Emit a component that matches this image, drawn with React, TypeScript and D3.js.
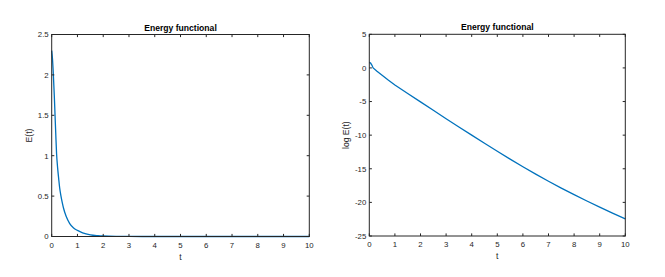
import React from "react";
import * as d3 from "d3";

const tE = [0, 0.03, 0.065, 0.1, 0.13, 0.16, 0.19, 0.23, 0.27, 0.31, 0.36, 0.41, 0.46, 0.56, 0.7, 0.85, 1.0, 1.2, 1.5, 1.8, 2.0, 2.5, 3.0, 4.0, 5.0, 6.0, 7.0, 8.0, 9.0, 10.0];
const valE = [2.3, 2.2, 2.0, 1.75, 1.5, 1.25, 1.02, 0.85, 0.72, 0.6, 0.5, 0.42, 0.35, 0.25, 0.16, 0.105, 0.075, 0.045, 0.02, 0.01, 0.006, 0.0015, 0.0005, 0.00005, 0.000005, 0, 0, 0, 0, 0];

const tLog = [0, 0.05, 0.1, 0.15, 0.3, 0.5, 0.75, 1.0, 1.5, 2.0, 2.5, 3.0, 3.5, 4.0, 4.5, 5.0, 5.5, 6.0, 6.5, 7.0, 7.5, 8.0, 8.5, 9.0, 9.5, 10.0];
const valLog = [0.83, 0.72, 0.42, 0.0, -0.5, -1.1, -1.85, -2.55, -3.8, -5.05, -6.3, -7.55, -8.78, -10.0, -11.2, -12.4, -13.56, -14.7, -15.8, -16.85, -17.87, -18.85, -19.8, -20.7, -21.6, -22.45];

const xTicks = [0, 1, 2, 3, 4, 5, 6, 7, 8, 9, 10];
const yTicksE = [0, 0.5, 1, 1.5, 2, 2.5];
const yTicksLog = [-25, -20, -15, -10, -5, 0, 5];

const titleText = "Energy functional";
const xLabel = "t";
const yLabelE = "E(t)";
const yLabelLog = "log E(t)";

const AX = "#262626";
const LINE = "#0072BD";
const FONT = "Liberation Sans, Arial, Helvetica, sans-serif";

type PanelProps = {
  x0: number; x1: number; y0: number; y1: number;
  yDomain: [number, number]; yTicks: number[];
  ts: number[]; vs: number[]; yLabel: string; yLabelX: number; smooth: boolean;
};

function Panel(p: PanelProps) {
  const xs = d3.scaleLinear().domain([0, 10]).range([p.x0, p.x1]);
  const ys = d3.scaleLinear().domain(p.yDomain).range([p.y1, p.y0]);
  const line = d3.line<number>().x((_, i) => xs(p.ts[i])).y((d) => ys(d));
  if (p.smooth) line.curve(d3.curveMonotoneX);
  const tl = 2.6;
  const fmt = (v: number) => String(v);
  return (
    <g>
      <rect x={p.x0} y={p.y0} width={p.x1 - p.x0} height={p.y1 - p.y0} fill="white" />
      <path d={line(p.vs) || ""} fill="none" stroke={LINE} strokeWidth={1.3} />
      <rect x={p.x0} y={p.y0} width={p.x1 - p.x0} height={p.y1 - p.y0} fill="none" stroke={AX} strokeWidth={1} />
      {xTicks.map((t) => (
        <g key={"x" + t}>
          <line x1={xs(t)} x2={xs(t)} y1={p.y1} y2={p.y1 - tl} stroke={AX} />
          <line x1={xs(t)} x2={xs(t)} y1={p.y0} y2={p.y0 + tl} stroke={AX} />
          <text x={xs(t)} y={p.y1 + 11} fontSize={7.8} textAnchor="middle" fill={AX} fontFamily={FONT}>{fmt(t)}</text>
        </g>
      ))}
      {p.yTicks.map((t) => (
        <g key={"y" + t}>
          <line x1={p.x0} x2={p.x0 + tl} y1={ys(t)} y2={ys(t)} stroke={AX} />
          <line x1={p.x1} x2={p.x1 - tl} y1={ys(t)} y2={ys(t)} stroke={AX} />
          <text x={p.x0 - 3} y={ys(t) + 2.8} fontSize={7.8} textAnchor="end" fill={AX} fontFamily={FONT}>{fmt(t)}</text>
        </g>
      ))}
      <text x={(p.x0 + p.x1) / 2} y={p.y0 - 4} fontSize={8.6} fontWeight="bold" textAnchor="middle" fill="#000" fontFamily={FONT}>{titleText}</text>
      <text x={(p.x0 + p.x1) / 2} y={p.y1 + 23} fontSize={8.6} textAnchor="middle" fill={AX} fontFamily={FONT}>{xLabel}</text>
      <text transform={`translate(${p.yLabelX},${(p.y0 + p.y1) / 2}) rotate(-90)`} fontSize={8.6} textAnchor="middle" fill={AX} fontFamily={FONT}>{p.yLabel}</text>
    </g>
  );
}

export default function App() {
  return (
    <svg width={665} height={277} style={{ position: "absolute", left: 0, top: 0, background: "white" }}>
      <rect width={665} height={277} fill="white" />
      <Panel x0={51.7} x1={309.3} y0={34.5} y1={236.5} yDomain={[0, 2.5]} yTicks={yTicksE}
        ts={tE} vs={valE} yLabel={yLabelE} yLabelX={32} smooth={true} />
      <Panel x0={369.3} x1={625.3} y0={34.3} y1={236} yDomain={[-25, 5]} yTicks={yTicksLog}
        ts={tLog} vs={valLog} yLabel={yLabelLog} yLabelX={349} smooth={false} />
    </svg>
  );
}
